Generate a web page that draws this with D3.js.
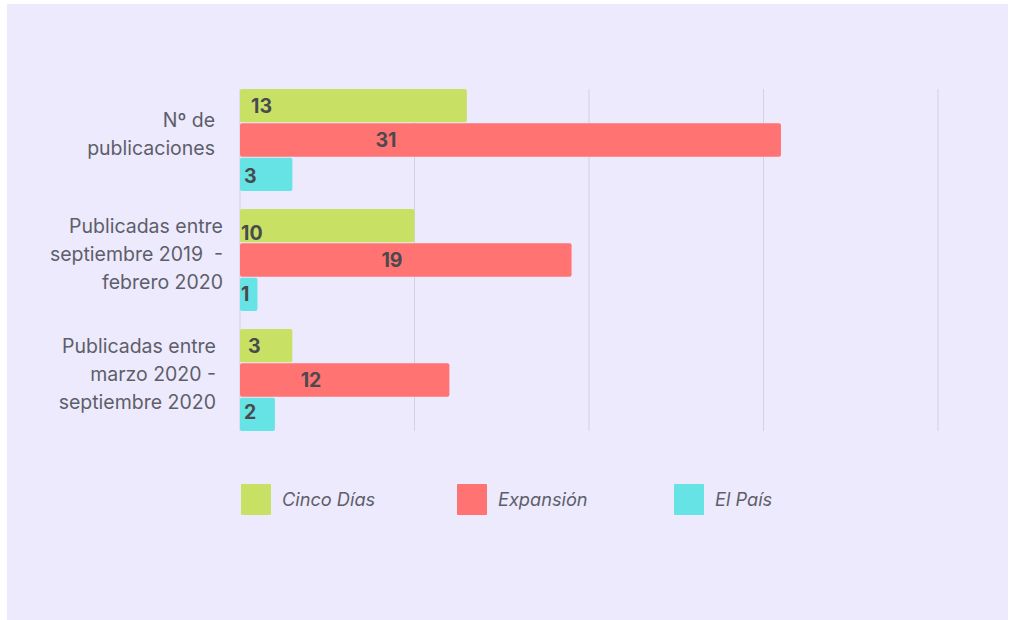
<!DOCTYPE html>
<html>
<head>
<meta charset="utf-8">
<script src="https://cdn.jsdelivr.net/npm/d3@7"></script>
<style>
  html, body { margin: 0; padding: 0; background: #ffffff; }
  svg { display: block; font-family: Inter, "Noto Sans", sans-serif; }
</style>
</head>
<body>
<svg id="chart" width="1010" height="620"></svg>
<script>
// ---- data ----
const categories = [
  ["Nº de", "publicaciones"],
  ["Publicadas entre", "septiembre 2019  -", "febrero 2020"],
  ["Publicadas entre", "marzo 2020 -", "septiembre 2020"]
];
const categoryKeys = ["total", "sep19feb20", "mar20sep20"];
const seriesNames = ["Cinco Días", "Expansión", "El País"];
const cincoDias = [13, 10, 3];
const expansion = [31, 19, 12];
const elPais = [3, 1, 2];
const xTicks = [0, 10, 20, 30, 40];

// ---- layout / style ----
const colors = ["#C8E164", "#FF7373", "#66E3E4"];
const series = [cincoDias, expansion, elPais];
const catLabelRight = [215, 223, 216];
// label placement (pixel offsets from bar start; anchor), per series per category
const labelAnchor = ["start", "middle", "start"];
const labelDx = [[11, 1, 8], [146, 152, 71], [4, 1, 4]];
const labelDy = [[0, 7, 0], [0, 0, 0], [2, 0, -2]];

const svg = d3.select("#chart");
svg.append("rect").attr("x", 7).attr("y", 4).attr("width", 1001).attr("height", 616).attr("fill", "#ECEAFC");

const x = d3.scaleLinear().domain([0, 40]).range([240, 938]);
const y0 = d3.scaleBand().domain(categoryKeys).range([80, 440]).paddingInner(0.15).paddingOuter(0.075);
const y1 = d3.scaleBand().domain(seriesNames).range([0, y0.bandwidth()]).paddingInner(0.03);

const gTop = y0(categoryKeys[0]);
const gBot = y0(categoryKeys[categoryKeys.length - 1]) + y0.bandwidth();

// gridlines
svg.append("g").selectAll("line").data(xTicks).join("line")
  .attr("x1", d => x(d)).attr("x2", d => x(d))
  .attr("y1", gTop).attr("y2", gBot)
  .attr("stroke", "#D4D2E0").attr("stroke-width", 1);

// bars
const groups = svg.append("g").selectAll("g").data(categoryKeys).join("g")
  .attr("transform", d => `translate(0,${y0(d)})`);

groups.each(function(key, ci) {
  const g = d3.select(this);
  seriesNames.forEach((s, si) => {
    const v = series[si][ci];
    g.append("rect")
      .attr("x", x(0)).attr("y", y1(s))
      .attr("width", x(v) - x(0)).attr("height", y1.bandwidth())
      .attr("rx", 2).attr("ry", 2)
      .attr("fill", colors[si]);
    g.append("text")
      .attr("x", x(0) + labelDx[si][ci])
      .attr("y", y1(s) + y1.bandwidth() / 2 + labelDy[si][ci])
      .attr("dy", "0.36em")
      .attr("text-anchor", labelAnchor[si])
      .attr("font-size", 19.5).attr("font-weight", 700)
      .attr("fill", "#4A4A4E")
      .text(v);
  });
});

// category labels
const lineH = 28;
categoryKeys.forEach((key, ci) => {
  const lines = categories[ci];
  const cy = y0(key) + y0.bandwidth() / 2 - 6;
  const t = svg.append("text")
    .attr("text-anchor", "end")
    .attr("font-size", 19.5)
    .attr("fill", "#5E5E6A")
    .style("white-space", "pre");
  lines.forEach((ln, li) => {
    t.append("tspan")
      .attr("x", catLabelRight[ci])
      .attr("y", cy + (li - (lines.length - 1) / 2) * lineH)
      .attr("dy", "0.35em")
      .text(ln);
  });
});

// legend
const legendX = [241, 457, 674];
const legend = svg.append("g").selectAll("g").data(seriesNames).join("g")
  .attr("transform", (d, i) => `translate(${legendX[i]},484)`);
legend.append("rect").attr("width", 30).attr("height", 31).attr("rx", 1).attr("fill", (d, i) => colors[i]);
legend.append("text")
  .attr("x", 41).attr("y", 16).attr("dy", "0.35em")
  .attr("font-size", 18.2).attr("font-style", "italic")
  .attr("fill", "#5E5E6A")
  .text(d => d);
</script>
</body>
</html>
